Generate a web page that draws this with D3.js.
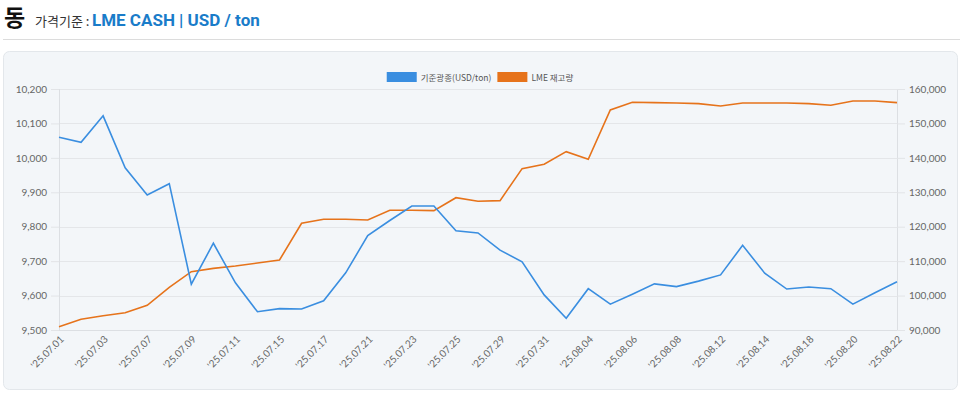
<!DOCTYPE html>
<html>
<head>
<meta charset="utf-8">
<script src="https://cdn.jsdelivr.net/npm/d3@7"></script>
<style>
  body { margin: 0; background: #fff; font-family: "Noto Sans CJK KR", "Noto Sans", sans-serif; }
  #chart { display: block; }
</style>
</head>
<body>
<svg id="chart" width="960" height="394"></svg>
<script>
var dates = ['25.07.01','25.07.02','25.07.03','25.07.04','25.07.07','25.07.08','25.07.09','25.07.10','25.07.11',
  '25.07.14','25.07.15','25.07.16','25.07.17','25.07.18','25.07.21','25.07.22','25.07.23','25.07.24','25.07.25',
  '25.07.28','25.07.29','25.07.30','25.07.31','25.08.01','25.08.04','25.08.05','25.08.06','25.08.07','25.08.08',
  '25.08.11','25.08.12','25.08.13','25.08.14','25.08.15','25.08.18','25.08.19','25.08.20','25.08.21','25.08.22'];

var price = [10060, 10045, 10122, 9971, 9892, 9925, 9633, 9752, 9637,
  9553, 9562, 9561, 9585, 9666, 9774, 9818, 9860, 9860, 9788,
  9782, 9732, 9698, 9602, 9534, 9620, 9575, 9604, 9634, 9626,
  9642, 9660, 9746, 9665, 9619, 9625, 9620, 9575, 9608, 9640];

var stock = [90950, 93100, 94150, 95030, 97170, 102400, 106950, 107900, 108600,
  109460, 110330, 121000, 122150, 122150, 121950, 124770, 124770, 124670, 128430,
  127380, 127570, 136870, 138130, 141800, 139580, 153900, 156150, 156030, 155940,
  155750, 155070, 155940, 155940, 155940, 155750, 155270, 156520, 156520, 156030];

var leftTicks = [9500, 9600, 9700, 9800, 9900, 10000, 10100, 10200];
var rightTicks = [90000, 100000, 110000, 120000, 130000, 140000, 150000, 160000];

var blue = '#3a8ee0';
var orange = '#e6731b';

var svg = d3.select('#chart');

// header
svg.append('text').attr('x', 4).attr('y', 26)
  .style('font-size', '23px').style('font-weight', 'bold').style('fill', '#111')
  .text('동');
svg.append('text').attr('x', 35).attr('y', 26)
  .style('font-size', '13px').style('fill', '#333')
  .text('가격기준 :');
svg.append('text').attr('x', 92).attr('y', 26)
  .style('font-size', '17px').style('font-weight', 'bold').style('fill', '#1a7cc9')
  .style('font-family', 'Roboto, "Noto Sans", sans-serif')
  .text('LME CASH | USD / ton');
svg.append('line').attr('x1', 3).attr('x2', 960).attr('y1', 39.5).attr('y2', 39.5)
  .style('stroke', '#dcdcdc');

// panel
svg.append('rect').attr('x', 3.5).attr('y', 51.5).attr('width', 954).attr('height', 338)
  .attr('rx', 6).style('fill', '#f3f6f9').style('stroke', '#e3e7eb');

var margin = { left: 59, right: 897, top: 89, bottom: 330 };

var x = d3.scalePoint().domain(dates).range([margin.left, margin.right]);
var yL = d3.scaleLinear().domain([9500, 10200]).range([margin.bottom, margin.top]);
var yR = d3.scaleLinear().domain([90000, 160000]).range([margin.bottom, margin.top]);

var fmt = d3.format(',');

// grid
svg.append('g').selectAll('line').data(leftTicks).join('line')
  .attr('x1', margin.left).attr('x2', margin.right)
  .attr('y1', d => Math.round(yL(d)) + 0.5).attr('y2', d => Math.round(yL(d)) + 0.5)
  .style('stroke', '#e4e6e9');

var leftAxis = svg.append('g').attr('transform', 'translate(' + margin.left + ',0)')
  .call(d3.axisLeft(yL).tickValues(leftTicks).tickFormat(fmt).tickSize(8).tickPadding(4));
var rightAxis = svg.append('g').attr('transform', 'translate(' + margin.right + ',0)')
  .call(d3.axisRight(yR).tickValues(rightTicks).tickFormat(fmt).tickSize(8).tickPadding(4));

var labelDates = dates.filter((d, i) => i % 2 === 0);
var bottomAxis = svg.append('g').attr('transform', 'translate(0,' + margin.bottom + ')')
  .call(d3.axisBottom(x).tickValues(labelDates).tickFormat(d => "'" + d).tickSize(0).tickPadding(0));
bottomAxis.select('.domain').remove();
bottomAxis.selectAll('text')
  .attr('text-anchor', 'end')
  .attr('dx', 0).attr('dy', 0)
  .attr('transform', 'translate(5,10) rotate(-45)');

[leftAxis, rightAxis, bottomAxis].forEach(function(a) {
  a.selectAll('.domain').style('stroke', '#dcdfe3');
  a.selectAll('.tick line').style('stroke', '#e2e4e7');
  a.selectAll('text').style('fill', '#666').style('font-size', '10px')
    .style('font-family', 'Lato, "Noto Sans", sans-serif');
});
leftAxis.select('.domain').attr('d', 'M0.5,' + margin.top + 'V' + margin.bottom);
rightAxis.select('.domain').attr('d', 'M0.5,' + margin.top + 'V' + margin.bottom);
svg.append('line').attr('x1', margin.left).attr('x2', margin.right)
  .attr('y1', margin.bottom + 0.5).attr('y2', margin.bottom + 0.5).style('stroke', '#dcdfe3');

// lines
svg.append('path').datum(stock)
  .attr('d', d3.line().x((d, i) => x(dates[i])).y(d => yR(d)))
  .style('fill', 'none').style('stroke', orange).style('stroke-width', 1.6);
svg.append('path').datum(price)
  .attr('d', d3.line().x((d, i) => x(dates[i])).y(d => yL(d)))
  .style('fill', 'none').style('stroke', blue).style('stroke-width', 1.6);

// legend, laid out from measured text widths and centred
var legend = [{ name: '기준광종(USD/ton)', color: blue }, { name: 'LME 재고량', color: orange }];
var legendG = svg.append('g');
var lg = legendG.selectAll('g').data(legend).join('g');
lg.append('rect').attr('width', 30).attr('height', 10).style('fill', d => d.color);
lg.append('text').attr('x', 34).attr('y', 8.5)
  .style('font-size', '8.5px').style('fill', '#555')
  .text(d => d.name);
var offset = 0;
lg.each(function() {
  var w = 34 + this.querySelector('text').getComputedTextLength();
  d3.select(this).attr('transform', 'translate(' + offset + ',0)');
  offset += w + 6;
});
legendG.attr('transform', 'translate(' + (480 - (offset - 6) / 2) + ',72)');
</script>
</body>
</html>
